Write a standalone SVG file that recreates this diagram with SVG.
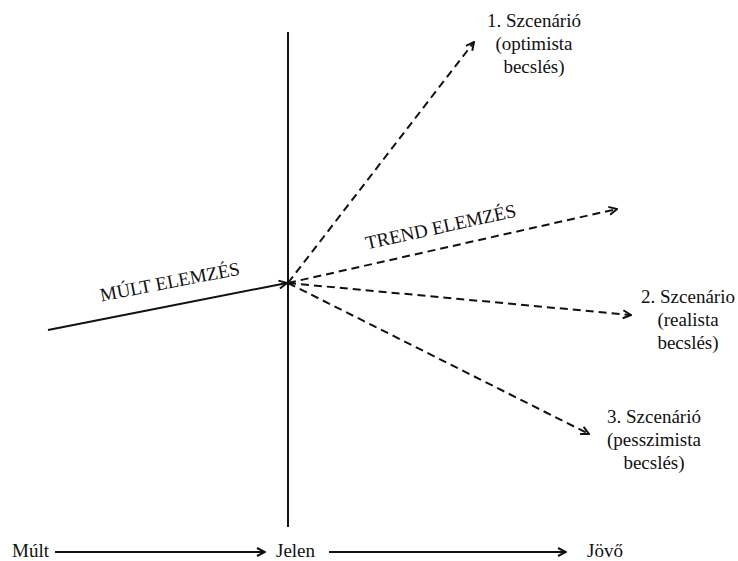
<svg xmlns="http://www.w3.org/2000/svg" width="738" height="561" viewBox="0 0 738 561">
<style>
text{font-family:"Liberation Serif","Times New Roman",serif;font-size:19px;fill:#111}
.s{stroke:#111;stroke-width:2;fill:none}
.d{stroke:#111;stroke-width:2;fill:none;stroke-dasharray:8 5}
</style>
<defs>
<marker id="ah" viewBox="0 0 10 10" refX="9" refY="5" markerWidth="10" markerHeight="10" markerUnits="userSpaceOnUse" orient="auto">
<path d="M1,1 L9,5 L1,9" fill="none" stroke="#111" stroke-width="2"/>
</marker>
</defs>
<rect width="738" height="561" fill="#fff"/>
<g id="connectors">
<line class="s" x1="288" y1="32" x2="288" y2="527"/>
<line class="s" x1="48" y1="330" x2="287" y2="283" marker-end="url(#ah)"/>
<line class="d" x1="288" y1="283" x2="474" y2="42" marker-end="url(#ah)"/>
<line class="d" x1="288" y1="283" x2="617" y2="209" marker-end="url(#ah)"/>
<line class="d" x1="288" y1="283" x2="631" y2="315" marker-end="url(#ah)"/>
<line class="d" x1="288" y1="283" x2="589" y2="434" marker-end="url(#ah)"/>
<line class="s" x1="55" y1="552" x2="265" y2="552" marker-end="url(#ah)"/>
<line class="s" x1="329" y1="552" x2="566" y2="552" marker-end="url(#ah)"/>
</g>
<g id="label-mult-elemzes"><text transform="translate(171,288) rotate(-11)" text-anchor="middle">MÚLT ELEMZÉS</text></g>
<g id="label-trend-elemzes"><text transform="translate(442,233) rotate(-12.5)" text-anchor="middle">TREND ELEMZÉS</text></g>
<g id="scenario1">
<text x="534" y="27" text-anchor="middle">1. Szcenárió</text>
<text x="534" y="50" text-anchor="middle">(optimista</text>
<text x="534" y="73" text-anchor="middle">becslés)</text>
</g>
<g id="scenario2">
<text x="688" y="303" text-anchor="middle">2. Szcenário</text>
<text x="688" y="326" text-anchor="middle">(realista</text>
<text x="688" y="349" text-anchor="middle">becslés)</text>
</g>
<g id="scenario3">
<text x="654" y="423" text-anchor="middle">3. Szcenárió</text>
<text x="654" y="446" text-anchor="middle">(pesszimista</text>
<text x="654" y="469" text-anchor="middle">becslés)</text>
</g>
<g id="mult"><text x="12" y="557">Múlt</text></g>
<g id="jelen"><text x="276" y="557">Jelen</text></g>
<g id="jovo"><text x="587" y="557">Jövő</text></g>
</svg>
